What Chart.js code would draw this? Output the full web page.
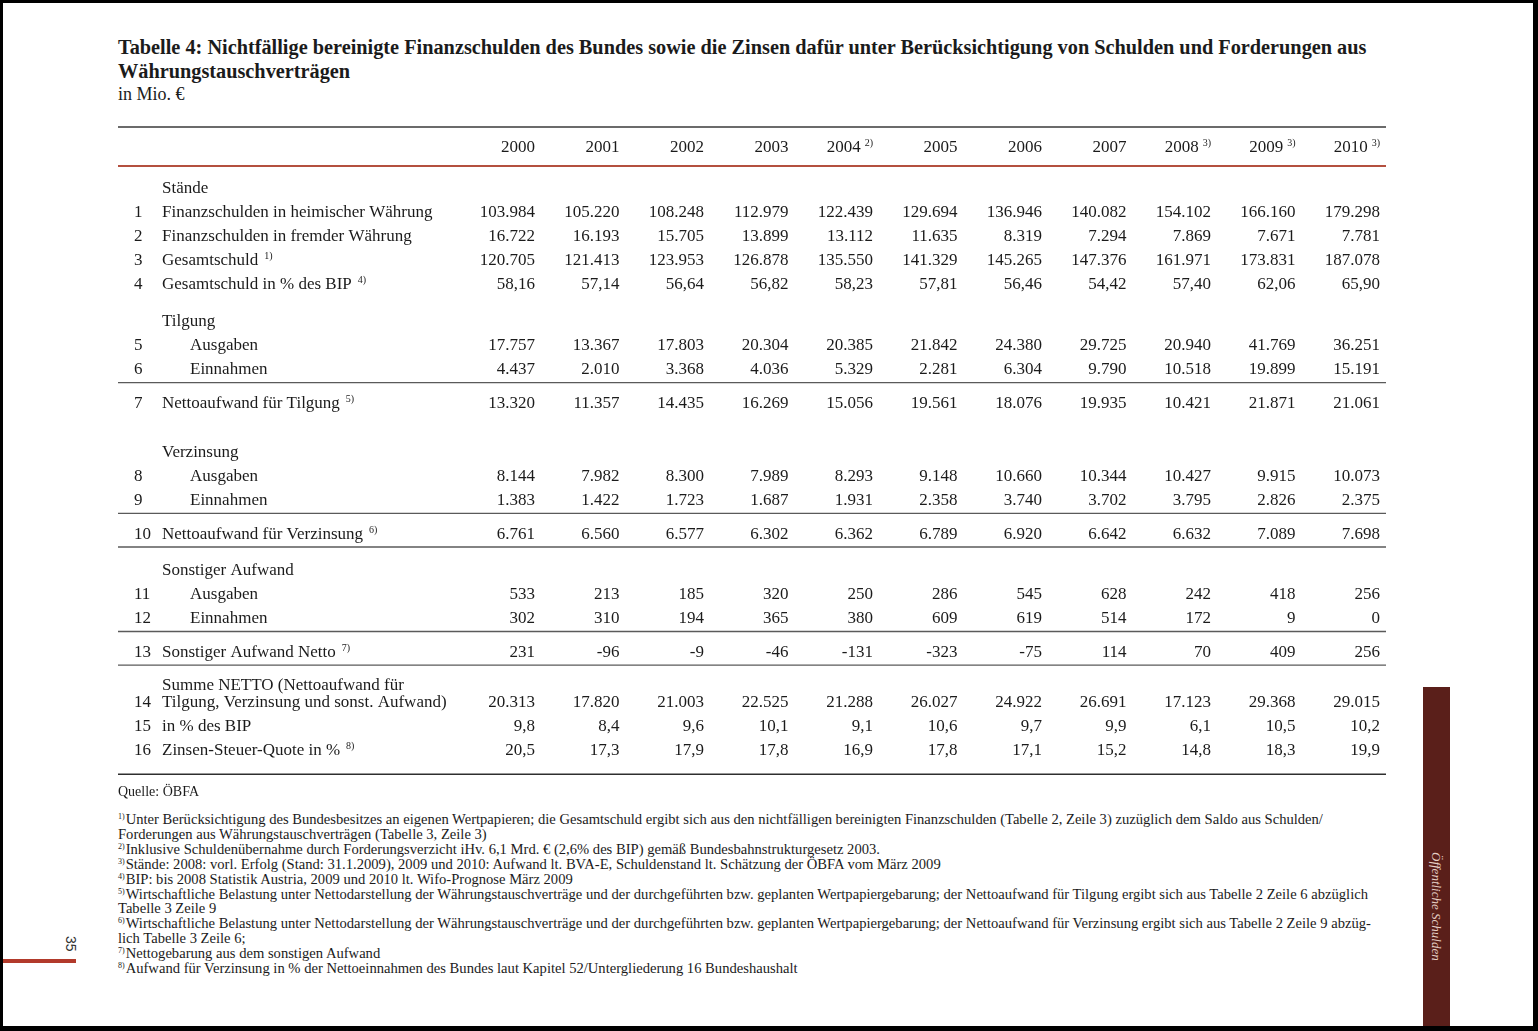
<!DOCTYPE html>
<html lang="de">
<head>
<meta charset="utf-8">
<title>Tabelle 4</title>
<script src="https://cdn.jsdelivr.net/npm/chart.js@4.4.1/dist/chart.umd.min.js"></script>
<style>
  html, body { margin: 0; padding: 0; }
  body { width: 1538px; height: 1031px; background: #000; position: relative; overflow: hidden;
         font-family: "Liberation Serif", "Times New Roman", serif; color: #1b1b1b; }
  #page { position: absolute; left: 3px; top: 3px; width: 1530px; height: 1023px; background: #fff; }
  .abs { position: absolute; white-space: nowrap; }
  .title { left: 118px; top: 35px; font-weight: bold; font-size: 20.3px; line-height: 24px; }
  .unit { left: 118px; top: 82px; font-size: 18px; line-height: 24px; }
  #tableBox { left: 118px; top: 118px; width: 1268px; height: 672px; }
  .quelle { left: 118px; top: 784px; font-size: 14px; line-height: 16px; }
  .notes { left: 118px; top: 812px; font-size: 14.6px; line-height: 14.9px; }
  .notes sup { font-size: 8px; vertical-align: 5px; line-height: 0; margin-right: 1px; }
  #sideBar { left: 1423px; top: 687px; width: 27px; height: 339px; background: #5a1f1a; }
  #sideText { left: 1428px; top: 852px; writing-mode: vertical-rl; font-style: italic; font-size: 13px;
              color: #e6cfc6; }
  #pageNum { left: 63px; top: 936px; writing-mode: vertical-rl; font-family: "Liberation Sans", sans-serif;
             font-size: 14px; color: #333; }
  #pageLine { left: 3px; top: 959px; width: 73px; height: 4px; background: #b23a2b; }
</style>
</head>
<body>
<div id="page"></div>

<div class="abs title">Tabelle 4: Nichtfällige bereinigte Finanzschulden des Bundes sowie die Zinsen dafür unter Berücksichtigung von Schulden und Forderungen aus<br>Währungstauschverträgen</div>
<div class="abs unit">in Mio. €</div>

<div class="abs" id="tableBox"><canvas id="tableChart" width="1268" height="672"></canvas></div>

<div class="abs quelle">Quelle: ÖBFA</div>
<div class="abs notes">
<sup>1)</sup>Unter Berücksichtigung des Bundesbesitzes an eigenen Wertpapieren; die Gesamtschuld ergibt sich aus den nichtfälligen bereinigten Finanzschulden (Tabelle 2, Zeile 3) zuzüglich dem Saldo aus Schulden/<br>
Forderungen aus Währungstauschverträgen (Tabelle 3, Zeile 3)<br>
<sup>2)</sup>Inklusive Schuldenübernahme durch Forderungsverzicht iHv. 6,1 Mrd. € (2,6% des BIP) gemäß Bundesbahnstrukturgesetz 2003.<br>
<sup>3)</sup>Stände: 2008: vorl. Erfolg (Stand: 31.1.2009), 2009 und 2010: Aufwand lt. BVA-E, Schuldenstand lt. Schätzung der ÖBFA vom März 2009<br>
<sup>4)</sup>BIP: bis 2008 Statistik Austria, 2009 und 2010 lt. Wifo-Prognose März 2009<br>
<sup>5)</sup>Wirtschaftliche Belastung unter Nettodarstellung der Währungstauschverträge und der durchgeführten bzw. geplanten Wertpapiergebarung; der Nettoaufwand für Tilgung ergibt sich aus Tabelle 2 Zeile 6 abzüglich<br>
Tabelle 3 Zeile 9<br>
<sup>6)</sup>Wirtschaftliche Belastung unter Nettodarstellung der Währungstauschverträge und der durchgeführten bzw. geplanten Wertpapiergebarung; der Nettoaufwand für Verzinsung ergibt sich aus Tabelle 2 Zeile 9 abzüg-<br>
lich Tabelle 3 Zeile 6;<br>
<sup>7)</sup>Nettogebarung aus dem sonstigen Aufwand<br>
<sup>8)</sup>Aufwand für Verzinsung in % der Nettoeinnahmen des Bundes laut Kapitel 52/Untergliederung 16 Bundeshaushalt
</div>

<div class="abs" id="sideBar"></div>
<div class="abs" id="sideText">Öffentliche Schulden</div>
<div class="abs" id="pageNum">35</div>
<div class="abs" id="pageLine"></div>

<script>
// Column heads
const years = ["2000", "2001", "2002", "2003", "2004", "2005", "2006", "2007", "2008", "2009", "2010"];
const yearNotes = ["", "", "", "", "2)", "", "", "", "3)", "3)", "3)"];

// Row structure
const rowNums = ["", "1", "2", "3", "4", "", "5", "6", "7", "", "8", "9", "10", "", "11", "12", "13", "14", "15", "16"];
const rowLabels = [
  "Stände",
  "Finanzschulden in heimischer Währung",
  "Finanzschulden in fremder Währung",
  "Gesamtschuld",
  "Gesamtschuld in % des BIP",
  "Tilgung",
  "Ausgaben",
  "Einnahmen",
  "Nettoaufwand für Tilgung",
  "Verzinsung",
  "Ausgaben",
  "Einnahmen",
  "Nettoaufwand für Verzinsung",
  "Sonstiger Aufwand",
  "Ausgaben",
  "Einnahmen",
  "Sonstiger Aufwand Netto",
  "Summe NETTO (Nettoaufwand für|Tilgung, Verzinsung und sonst. Aufwand)",
  "in % des BIP",
  "Zinsen-Steuer-Quote in %"
];
const rowNotes = ["", "", "", "1)", "4)", "", "", "", "5)", "", "", "", "6)", "", "", "", "7)", "", "", "8)"];
const rowKinds = ["head", "item", "item", "item", "item", "head", "sub", "sub", "total", "head", "sub", "sub", "total",
                  "head", "sub", "sub", "total", "item", "item", "item"];
const rowRuleAbove = [false, false, false, false, false, false, false, false, true, false, false, false, true,
                      true, false, false, true, true, false, false];

// Values (Mio. €, % where noted)
const heimisch   = [103984, 105220, 108248, 112979, 122439, 129694, 136946, 140082, 154102, 166160, 179298];
const fremd      = [16722, 16193, 15705, 13899, 13112, 11635, 8319, 7294, 7869, 7671, 7781];
const gesamt     = [120705, 121413, 123953, 126878, 135550, 141329, 145265, 147376, 161971, 173831, 187078];
const gesamtBip  = [58.16, 57.14, 56.64, 56.82, 58.23, 57.81, 56.46, 54.42, 57.40, 62.06, 65.90];
const tilgAus    = [17757, 13367, 17803, 20304, 20385, 21842, 24380, 29725, 20940, 41769, 36251];
const tilgEin    = [4437, 2010, 3368, 4036, 5329, 2281, 6304, 9790, 10518, 19899, 15191];
const tilgNetto  = [13320, 11357, 14435, 16269, 15056, 19561, 18076, 19935, 10421, 21871, 21061];
const zinsAus    = [8144, 7982, 8300, 7989, 8293, 9148, 10660, 10344, 10427, 9915, 10073];
const zinsEin    = [1383, 1422, 1723, 1687, 1931, 2358, 3740, 3702, 3795, 2826, 2375];
const zinsNetto  = [6761, 6560, 6577, 6302, 6362, 6789, 6920, 6642, 6632, 7089, 7698];
const sonstAus   = [533, 213, 185, 320, 250, 286, 545, 628, 242, 418, 256];
const sonstEin   = [302, 310, 194, 365, 380, 609, 619, 514, 172, 9, 0];
const sonstNetto = [231, -96, -9, -46, -131, -323, -75, 114, 70, 409, 256];
const summe      = [20313, 17820, 21003, 22525, 21288, 26027, 24922, 26691, 17123, 29368, 29015];
const summeBip   = [9.8, 8.4, 9.6, 10.1, 9.1, 10.6, 9.7, 9.9, 6.1, 10.5, 10.2];
const zsq        = [20.5, 17.3, 17.9, 17.8, 16.9, 17.8, 17.1, 15.2, 14.8, 18.3, 19.9];

const rowValues = [null, heimisch, fremd, gesamt, gesamtBip, null, tilgAus, tilgEin, tilgNetto, null,
                   zinsAus, zinsEin, zinsNetto, null, sonstAus, sonstEin, sonstNetto, summe, summeBip, zsq];
const rowDigits = [0, 0, 0, 0, 2, 0, 0, 0, 0, 0, 0, 0, 0, 0, 0, 0, 0, 0, 1, 1];

// German number format
function fmt(v, d) {
  const parts = Math.abs(v).toFixed(d).split(".");
  const int = parts[0].replace(/\B(?=(\d{3})+(?!\d))/g, ".");
  return (v < 0 ? "-" : "") + int + (parts[1] ? "," + parts[1] : "");
}

// Layout in line units (1 line = 24px)
const headLine = 1.17;
const topRule = 0.375;
const redRule = 2.0;
const rowY = [];
const midRules = [];
let cursor = 2.875;
rowLabels.forEach((label, r) => {
  if (r > 0) {
    if (rowRuleAbove[r]) {
      midRules.push(cursor + 0.6);
      cursor += 0.6 + (rowKinds[r] === "head" ? 0.92 : 0.8);
    } else if (rowKinds[r] === "head") {
      cursor += rowKinds[r - 1] === "total" ? 2.05 : 1.55;
    } else {
      cursor += 1;
    }
  }
  cursor += 0.7 * (label.split("|").length - 1);
  rowY.push(cursor);
});
const bottomRule = cursor + 1.05;

const FONT = '"Liberation Serif", "Times New Roman", serif';
const TEXT = "#1b1b1b";

function drawRule(ctx, y, w, color, width) {
  ctx.save();
  ctx.strokeStyle = color;
  ctx.lineWidth = width;
  ctx.beginPath();
  ctx.moveTo(0, y);
  ctx.lineTo(w, y);
  ctx.stroke();
  ctx.restore();
}

// Text plus optional superscript; align "right" puts the note at the anchor
function drawWithNote(ctx, text, note, x, y, align) {
  ctx.font = "17px " + FONT;
  const noteFont = "10px " + FONT;
  ctx.textBaseline = "alphabetic";
  if (align === "right") {
    let nx = x;
    if (note) {
      ctx.font = noteFont;
      ctx.textAlign = "right";
      ctx.fillText(note, x, y - 6);
      nx = x - ctx.measureText(note).width - 4;
      ctx.font = "17px " + FONT;
    }
    ctx.textAlign = "right";
    ctx.fillText(text, nx, y);
  } else {
    ctx.textAlign = "left";
    ctx.fillText(text, x, y);
    if (note) {
      const w = ctx.measureText(text).width;
      ctx.font = noteFont;
      ctx.fillText(note, x + w + 6, y - 6);
    }
  }
}

const tablePlugin = {
  id: "tableText",
  beforeDatasetsDraw(chart) {
    const ctx = chart.ctx;
    const yS = chart.scales.y;
    const w = chart.width;
    drawRule(ctx, yS.getPixelForValue(topRule), w, "#3a3a3a", 1.5);
    drawRule(ctx, yS.getPixelForValue(redRule), w, "#b4503f", 2);
    midRules.forEach(r => drawRule(ctx, yS.getPixelForValue(r), w, "#5a5a5a", 1.3));
    drawRule(ctx, yS.getPixelForValue(bottomRule), w, "#2e2e2e", 1.6);
  },
  afterDatasetsDraw(chart) {
    const ctx = chart.ctx;
    const xS = chart.scales.x;
    const yS = chart.scales.y;
    ctx.save();
    ctx.fillStyle = TEXT;

    // header
    const hy = yS.getPixelForValue(headLine) + 6;
    years.forEach((yr, i) => drawWithNote(ctx, yr, yearNotes[i], xS.getPixelForValue(i), hy, "right"));

    // row numbers and labels
    rowLabels.forEach((label, r) => {
      const y = yS.getPixelForValue(rowY[r]) + 6;
      const lines = label.split("|");
      const lx = rowKinds[r] === "sub" ? 72 : 44;
      ctx.font = "17px " + FONT;
      ctx.textAlign = "left";
      ctx.fillText(rowNums[r], 16, y);
      lines.forEach((ln, k) => {
        const ly = y - (lines.length - 1 - k) * 17;
        drawWithNote(ctx, ln, k === lines.length - 1 ? rowNotes[r] : "", lx, ly, "left");
      });
    });

    // cell values at the points placed by the scales
    chart.data.datasets.forEach((ds, di) => {
      const meta = chart.getDatasetMeta(di);
      meta.data.forEach((el, i) => {
        drawWithNote(ctx, fmt(ds.data[i].v, ds.digits), "", el.x, el.y + 6, "right");
      });
    });
    ctx.restore();
  }
};

// Build datasets: one per table row with values
const datasets = [];
rowValues.forEach((vals, r) => {
  if (!vals) return;
  datasets.push({
    label: rowLabels[r],
    digits: rowDigits[r],
    data: vals.map((v, i) => ({ x: i, y: rowY[r], v: v })),
    pointRadius: 0,
    showLine: false
  });
});

new Chart(document.getElementById("tableChart").getContext("2d"), {
  type: "scatter",
  data: { datasets: datasets },
  options: {
    responsive: false,
    animation: false,
    devicePixelRatio: 1,
    layout: { padding: { left: 332.5, right: 6, top: 0, bottom: 0 } },
    scales: {
      x: { type: "linear", min: -1, max: 10, display: false },
      y: { type: "linear", min: 0, max: 28, reverse: true, display: false }
    },
    plugins: { legend: { display: false }, tooltip: { enabled: false } }
  },
  plugins: [tablePlugin]
});
</script>
</body>
</html>
